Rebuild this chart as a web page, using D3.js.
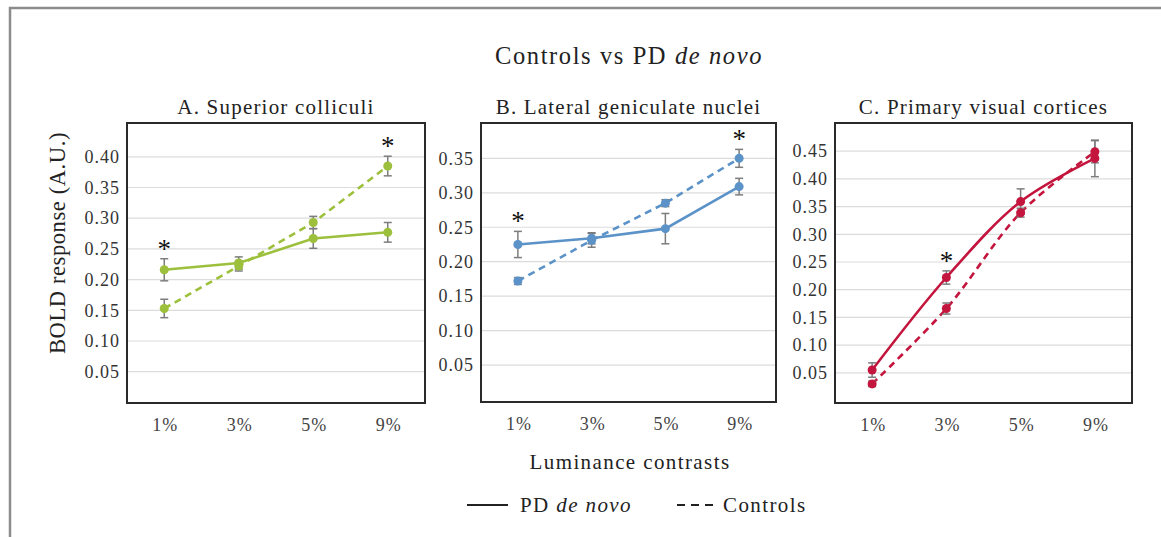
<!DOCTYPE html>
<html><head><meta charset="utf-8">
<script src="https://cdn.jsdelivr.net/npm/d3@7"></script>
<style>
body{margin:0;background:#fff}
svg{display:block}
</style>
</head><body><svg id="c" width="1161" height="537"></svg>
<script>
// ---------- data ----------
const categories = ["1%", "3%", "5%", "9%"];
const panelTitles = ["A. Superior colliculi", "B. Lateral geniculate nuclei", "C. Primary visual cortices"];

const pdA = [0.216, 0.227, 0.267, 0.277];
const pdAErr = [0.018, 0.010, 0.016, 0.016];
const ctlA = [0.153, 0.222, 0.293, 0.385];
const ctlAErr = [0.015, 0.008, 0.010, 0.016];

const pdB = [0.225, 0.234, 0.248, 0.309];
const pdBErr = [0.019, 0.008, 0.022, 0.012];
const ctlB = [0.172, 0.231, 0.285, 0.350];
const ctlBErr = [0.005, 0.010, 0.005, 0.013];

const pdC = [0.055, 0.222, 0.359, 0.437];
const pdCErr = [0.013, 0.012, 0.023, 0.033];
const ctlC = [0.030, 0.166, 0.339, 0.449];
const ctlCErr = [0.005, 0.010, 0.008, 0.020];

const yMaxA = 0.45, yMaxB = 0.40, yMaxC = 0.50;
const ticksA = [0.05, 0.10, 0.15, 0.20, 0.25, 0.30, 0.35, 0.40];
const ticksB = [0.05, 0.10, 0.15, 0.20, 0.25, 0.30, 0.35];
const ticksC = [0.05, 0.10, 0.15, 0.20, 0.25, 0.30, 0.35, 0.40, 0.45];

const starsA = ["1%", "9%"];
const starsB = ["1%", "9%"];
const starsC = ["3%"];

// ---------- style / layout ----------
const FONT = '"Liberation Serif", "Times New Roman", serif';
const colors = ["#9dc03c", "#5b92c8", "#c3153d"];
const layouts = [
  {left: 127, right: 425, top: 123, bottom: 403, y0: 402.4, y1: 126.1, smooth: false},
  {left: 481, right: 776, top: 123, bottom: 402, y0: 399.5, y1: 123.9, smooth: false},
  {left: 835, right: 1132, top: 123, bottom: 403, y0: 400.5, y1: 123.5, smooth: true}
];
const panels = [
  {title: panelTitles[0], pd: pdA, pdErr: pdAErr, ctl: ctlA, ctlErr: ctlAErr, max: yMaxA, ticks: ticksA, stars: starsA},
  {title: panelTitles[1], pd: pdB, pdErr: pdBErr, ctl: ctlB, ctlErr: ctlBErr, max: yMaxB, ticks: ticksB, stars: starsB},
  {title: panelTitles[2], pd: pdC, pdErr: pdCErr, ctl: ctlC, ctlErr: ctlCErr, max: yMaxC, ticks: ticksC, stars: starsC}
];

const svg = d3.select("#c");

function stxt(g, x, y, str, size, anchor, ls) {
  return g.append("text")
    .attr("x", x).attr("y", y)
    .attr("text-anchor", anchor || "middle")
    .style("font-family", FONT)
    .style("font-size", size + "px")
    .style("letter-spacing", (ls || 0) + "px")
    .attr("fill", "#222")
    .text(str);
}

// outer frame
svg.append("rect").attr("x", 10).attr("y", 8).attr("width", 1200).attr("height", 600)
  .attr("fill", "none").attr("stroke", "#8c8c8c").attr("stroke-width", 2.5);

// main title
const tt = stxt(svg, 629, 64, "", 24.5, "middle", 1.6);
tt.append("tspan").text("Controls vs PD ");
tt.append("tspan").style("font-style", "italic").text("de novo");

panels.forEach((p, i) => {
  const L = layouts[i];
  const color = colors[i];
  const g = svg.append("g");
  const x = d3.scaleBand().domain(categories).range([L.left, L.right]).padding(0);
  const cx = c => x(c) + x.bandwidth() / 2;
  const y = d3.scaleLinear().domain([0, p.max]).range([L.y0, L.y1]);

  // gridlines
  g.append("g").selectAll("line").data(p.ticks).join("line")
    .attr("x1", L.left).attr("x2", L.right)
    .attr("y1", d => y(d)).attr("y2", d => y(d))
    .attr("stroke", "#dcdcdc").attr("stroke-width", 1.2);

  // y axis labels
  const ax = g.append("g").attr("transform", `translate(${L.left},0)`)
    .call(d3.axisLeft(y).tickValues(p.ticks).tickFormat(d3.format(".2f")).tickSize(0).tickPadding(7));
  ax.attr("font-family", null).attr("font-size", null);
  ax.select(".domain").remove();
  ax.selectAll("text")
    .style("font-size", "18px").style("letter-spacing", "1px").attr("fill", "#333")
    .style("font-family", FONT);

  // x axis labels
  const xa = g.append("g").attr("transform", `translate(0,${L.bottom})`)
    .call(d3.axisBottom(x).tickSize(0).tickPadding(0));
  xa.attr("font-family", null).attr("font-size", null);
  xa.select(".domain").remove();
  xa.selectAll("text").attr("y", 28).attr("dy", 0).attr("x", 1)
    .style("font-size", "18px").style("letter-spacing", "1px").attr("fill", "#444")
    .style("font-family", FONT);
  xa.selectAll(".tick").attr("transform", d => `translate(${cx(d)},0)`);

  // frame
  g.append("rect").attr("x", L.left).attr("y", L.top)
    .attr("width", L.right - L.left).attr("height", L.bottom - L.top)
    .attr("fill", "none").attr("stroke", "#2a2a2a").attr("stroke-width", 2);

  // panel title
  stxt(g, (L.left + L.right) / 2, 114, p.title, 21, "middle", 1.2);

  const series = [
    {vals: p.pd, err: p.pdErr, dash: null},
    {vals: p.ctl, err: p.ctlErr, dash: "7,5"}
  ];
  const line = d3.line().x((d, j) => cx(categories[j])).y(d => y(d))
    .curve(L.smooth ? d3.curveCatmullRom.alpha(0.5) : d3.curveLinear);

  series.forEach(s => {
    g.append("path").datum(s.vals).attr("d", line)
      .attr("fill", "none").attr("stroke", color).attr("stroke-width", 2.6)
      .attr("stroke-dasharray", s.dash);
  });
  series.forEach(s => {
    const eb = g.append("g").attr("stroke", "#7d7d7d").attr("stroke-width", 1.5);
    s.vals.forEach((v, j) => {
      const xc = cx(categories[j]);
      const t = y(v + s.err[j]), b = y(v - s.err[j]);
      eb.append("line").attr("x1", xc).attr("x2", xc).attr("y1", t).attr("y2", b);
      eb.append("line").attr("x1", xc - 4).attr("x2", xc + 4).attr("y1", t).attr("y2", t);
      eb.append("line").attr("x1", xc - 4).attr("x2", xc + 4).attr("y1", b).attr("y2", b);
    });
  });
  series.forEach(s => {
    g.append("g").selectAll("circle").data(s.vals).join("circle")
      .attr("cx", (d, j) => cx(categories[j])).attr("cy", d => y(d))
      .attr("r", 4.5).attr("fill", color);
  });

  // significance stars
  p.stars.forEach(c => {
    const j = categories.indexOf(c);
    const topV = Math.max(p.pd[j] + p.pdErr[j], p.ctl[j] + p.ctlErr[j]);
    const yc = y(topV) - 13;
    stxt(g, cx(c), yc + 12, "*", 27).attr("fill", "#111");
  });
});

// y axis title
svg.append("text")
  .attr("transform", "translate(57,243) rotate(-90)")
  .attr("text-anchor", "middle").attr("dy", "0.35em")
  .style("font-family", FONT)
  .style("font-size", "22.5px").style("letter-spacing", "0.6px").attr("fill", "#222")
  .text("BOLD response (A.U.)");

// x axis title
stxt(svg, 630, 469, "Luminance contrasts", 21, "middle", 1.4);

// legend
svg.append("line").attr("x1", 467).attr("x2", 508).attr("y1", 505).attr("y2", 505)
  .attr("stroke", "#222").attr("stroke-width", 2.2);
const lg1 = stxt(svg, 520, 512, "", 21, "start", 1.4);
lg1.append("tspan").text("PD ");
lg1.append("tspan").style("font-style", "italic").text("de novo");
svg.append("line").attr("x1", 677).attr("x2", 718).attr("y1", 505).attr("y2", 505)
  .attr("stroke", "#222").attr("stroke-width", 2.2).attr("stroke-dasharray", "8,6");
stxt(svg, 723, 512, "Controls", 21, "start", 1.4);
</script>
</body></html>
